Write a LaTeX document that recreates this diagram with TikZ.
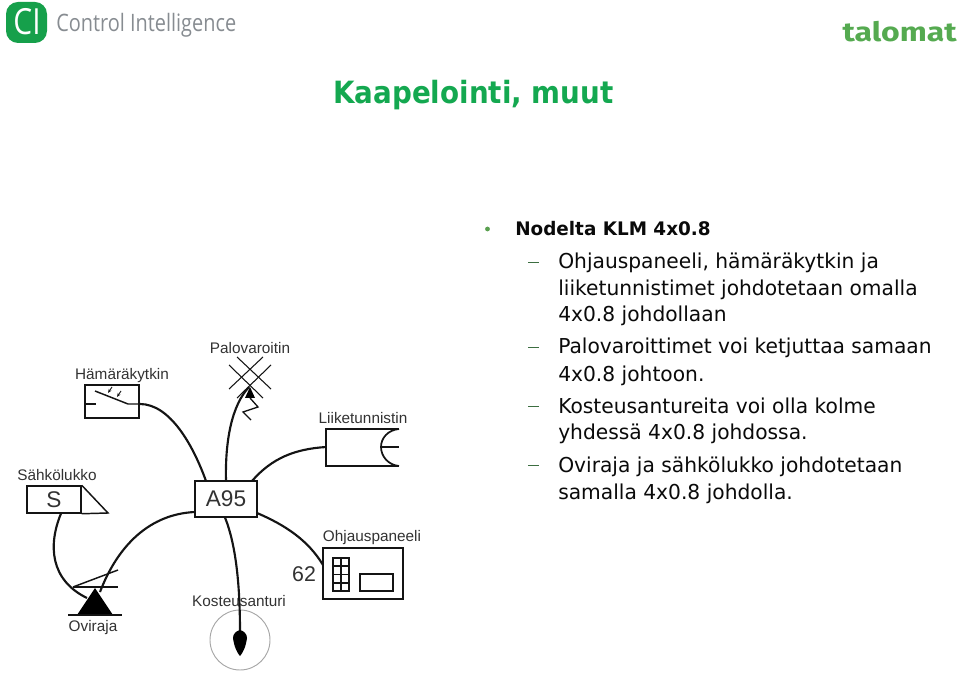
\documentclass[tikz,border=0pt]{standalone}
\usepackage{fontspec}
\usetikzlibrary{arrows.meta}
\setmainfont{Liberation Sans}
\newfontfamily\bodyfont[FakeStretch=0.985]{DejaVu Sans}
\newfontfamily\titlefont[FakeStretch=0.905]{DejaVu Sans}
\newfontfamily\logofont[FakeStretch=0.83]{Open Sans}
\newfontfamily\talofont[FakeStretch=1.2]{Fira Sans}
\definecolor{cigreen}{RGB}{22,160,75}
\definecolor{titlegreen}{RGB}{20,168,80}
\definecolor{talogreen}{RGB}{85,170,80}
\definecolor{bulletgreen}{RGB}{90,160,80}
\definecolor{dashgreen}{RGB}{60,110,65}
\definecolor{logogrey}{RGB}{135,140,145}
\definecolor{labelgrey}{RGB}{50,50,50}
\definecolor{wirecol}{RGB}{20,20,20}
\definecolor{bodycol}{RGB}{10,10,10}
\tikzset{
 x=0.75pt,y=-0.75pt,
 wire/.style={draw=wirecol,line width=1.6pt},
 thin wire/.style={draw=wirecol,line width=0.9pt},
 devlabel/.style={text=labelgrey,font=\fontsize{11.5}{13}\selectfont,inner sep=0pt},
 bodyline/.style={anchor=base west,inner sep=0pt,text=bodycol,font=\bodyfont\fontsize{15.4}{18}\selectfont},
 dashmark/.style={draw=dashgreen,line width=1.2pt},
}
\begin{document}
\begin{tikzpicture}
\useasboundingbox (0,0) rectangle (960,673);
% header
\fill[cigreen,rounded corners=9pt] (6,2) rectangle (47,43);
\node[text=white,inner sep=0pt,font=\logofont\fontsize{27}{30}\selectfont] (cilogo) at (27,22) {CI};
\node[anchor=west,inner sep=0pt,text=logogrey,font=\logofont\fontsize{18}{20}\selectfont] (citext) at (56,25) {Control Intelligence};
\node[anchor=base east,inner sep=0pt,text=talogreen,font=\talofont\bfseries\fontsize{20}{24}\selectfont] (talomat) at (957,41.5) {talomat};
\node[anchor=base west,inner sep=0pt,text=titlegreen,font=\titlefont\bfseries\fontsize{23}{28}\selectfont] (title) at (333,104) {Kaapelointi, muut};
% text
\fill[bulletgreen] (487.5,229) circle (2.4);
\node[bodyline,font=\bodyfont\bfseries\fontsize{14}{18}\selectfont] (l1) at (515,236) {Nodelta KLM 4x0.8};
\foreach \yy/\txt/\dsh in {
 269/Ohjauspaneeli{,} hämäräkytkin ja/1,
 296/liiketunnistimet johdotetaan omalla/0,
 322/4x0.8 johdollaan/0,
 354/Palovaroittimet voi ketjuttaa samaan/1,
 382/4x0.8 johtoon./0,
 413/Kosteusantureita voi olla kolme/1,
 440/yhdessä 4x0.8 johdossa./0,
 472/Oviraja ja sähkölukko johdotetaan/1,
 499/samalla 4x0.8 johdolla./0}{
 \node[bodyline] at (558,\yy) {\txt};
 \ifnum\dsh=1 \draw[dashmark] (528,\yy-6.5) -- (538.5,\yy-6.5);\fi
}
% device nodes
\node[draw=wirecol,line width=1.7pt,minimum width=61.5*0.75pt,minimum height=35.5*0.75pt,inner sep=0pt,font=\fontsize{17}{20}\selectfont,text=labelgrey] (a95) at (226,499) {A95};
\node[draw=wirecol,line width=1.4pt,minimum width=54*0.75pt,minimum height=33*0.75pt,inner sep=0pt] (ham) at (112,401.5) {};
\node[draw=wirecol,line width=1.1pt,minimum width=54*0.75pt,minimum height=27*0.75pt,inner sep=0pt,font=\fontsize{17}{20}\selectfont,text=labelgrey] (sahko) at (54,499.5) {S};
\node[draw=wirecol,line width=1.5pt,minimum width=80*0.75pt,minimum height=51*0.75pt,inner sep=0pt] (panel) at (363,573.5) {};
\node[draw=gray!70,line width=0.7pt,circle,minimum size=60*0.75pt,inner sep=0pt] (kost) at (240,640) {};
% labels
\node[devlabel] (lham) at (122,376) {Hämäräkytkin};
\node[devlabel] (lsah) at (57,475) {Sähkölukko};
\node[devlabel] (lpal) at (250,348) {Palovaroitin};
\node[devlabel] (llii) at (363,418) {Liiketunnistin};
\node[devlabel] (lohj) at (372,538) {Ohjauspaneeli};
\node[devlabel] (lkos) at (239,601) {Kosteusanturi};
\node[devlabel] (lovi) at (93,628) {Oviraja};
\node[text=labelgrey,inner sep=0pt,font=\fontsize{16}{18}\selectfont] (n62) at (304,574) {62};
% hamarakytkin symbol
\coordinate (hsw) at (128,404);
\draw[thin wire,line width=1.1pt] (95,391) -- (hsw) -- (ham.east |- hsw);
\draw[thin wire,line width=1.1pt] (ham.west |- hsw) -- (96,404);
\draw[thin wire,line width=0.7pt,-{Stealth[length=3pt,width=2.4pt]}] (112,387) -- (108,393);
\draw[thin wire,line width=0.7pt,-{Stealth[length=3pt,width=2.4pt]}] (121,391) -- (117,397);
\coordinate (a95nw) at (206,481);
\draw[wire] (ham.east |- hsw) .. controls (170,404) and (193,445) .. (a95nw);
% sahkolukko triangle
\coordinate (stri) at (108,513);
\draw[thin wire,line width=1.1pt] (sahko.north east) -- (stri) -- (sahko.south east);
% palovaroitin symbol
\foreach \ax/\ay/\bx/\by in {237/357/271/389,229/365/263/398,263/357/229/389,271/365/237/398}
 \draw[thin wire,line width=0.8pt] (\ax,\ay) -- (\bx,\by);
\fill[black] (250,387) -- (255,398) -- (245,398) -- cycle;
\draw[thin wire,line width=1pt] (250,398) -- (258,407) -- (243,412) -- (251,420);
\coordinate (palend) at (249,387);
\coordinate (a95n) at (226,481);
\draw[wire] (a95n) .. controls (225,440) and (232,405) .. (palend);
% liiketunnistin symbol
\coordinate (lnw) at (326,429);
\coordinate (lsw) at (326,466);
\coordinate (lne) at (399,429);
\coordinate (lse) at (399,466);
\coordinate (lmid) at (381,447);
\coordinate (lmide) at (399,447);
\draw[wire] (lne) -- (lnw) -- (lsw) -- (lse);
\draw[wire,line width=1.3pt] (lne) .. controls (388,430) and (381,438) .. (lmid) .. controls (381,456) and (388,465) .. (lse);
\draw[wire,line width=1.3pt] (lmid) -- (lmide);
\coordinate (lwire) at (326,447);
\coordinate (a95ne) at (252,481);
\draw[wire] (lwire) .. controls (295,449) and (272,458) .. (a95ne);
% wires
\coordinate (a95w) at (195,512);
\coordinate (oviend) at (100,592);
\coordinate (s1) at (61,513.5);
\coordinate (s2) at (87,598);
\coordinate (a95s) at (225,517.5);
\coordinate (kosttop) at (240,632);
\coordinate (a95e) at (257,513);
\coordinate (panw) at (323,565);
\draw[wire] (a95w) .. controls (150,514) and (118,545) .. (oviend);
\draw[wire] (s1) .. controls (48,545) and (50,580) .. (s2);
\draw[wire] (a95s) .. controls (236,545) and (240,585) .. (kosttop);
\draw[wire] (a95e) .. controls (285,525) and (308,540) .. (panw);
% kosteusanturi symbol
\fill[black] (240,630) .. controls (244,631) and (247,634) .. (247,638) .. controls (246,646) and (243,653) .. (240,656) .. controls (237,653) and (234,646) .. (233,638) .. controls (233,634) and (236,631) .. (240,630) -- cycle;
% oviraja symbol
\fill[black] (95,588) -- (113,615) -- (77,615) -- cycle;
\draw[thin wire,line width=1.1pt] (68,615) -- (122,615);
\draw[thin wire,line width=1.1pt] (73,587) -- (118,587);
\draw[thin wire,line width=1.1pt] (73,587) -- (118,570);
% panel symbol
\draw[thin wire,line width=1.4pt] (333,558) rectangle (349,591);
\draw[thin wire,line width=1.1pt] (341,558) -- (341,591);
\foreach \yy in {566,574.5,583} \draw[thin wire,line width=1.1pt] (333,\yy) -- (349,\yy);
\draw[thin wire,line width=1.4pt] (360,574) rectangle (393,591);
\end{tikzpicture}
\end{document}
